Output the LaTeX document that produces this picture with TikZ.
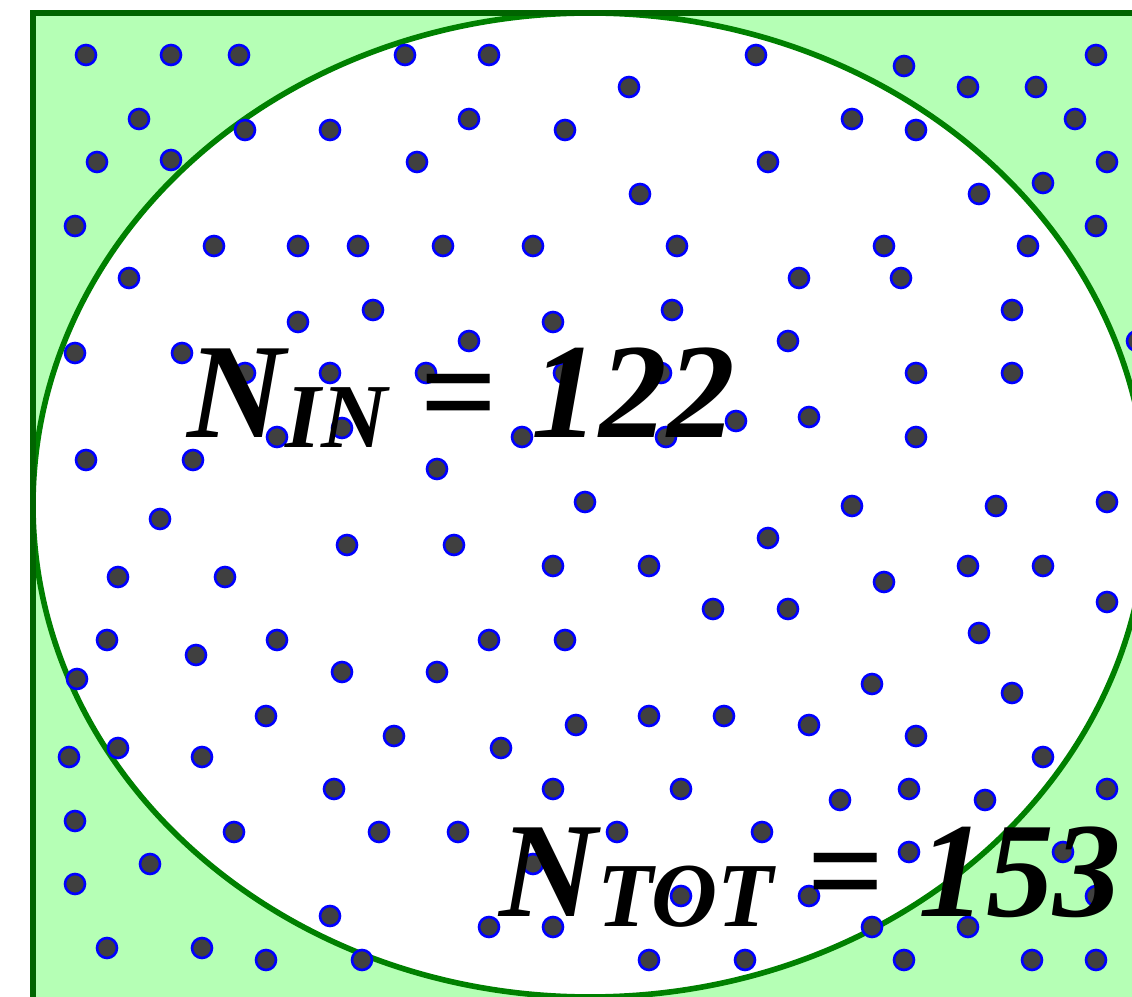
\documentclass[tikz,border=0pt]{standalone}
\usepackage{fontspec}
\setmainfont{Liberation Serif}
\usetikzlibrary{calc}
\definecolor{boxgreen}{RGB}{0,100,0}
\definecolor{ringgreen}{RGB}{0,128,0}
\definecolor{outgreen}{RGB}{181,255,181}
\definecolor{dotgray}{RGB}{64,64,64}
\newcommand{\lowsub}[1]{\raisebox{-2.8pt}{\fontsize{26}{28}\selectfont #1}}
\tikzset{
  pt/.style={fill=dotgray,draw=blue,line width=0.75pt},
  count/.style={font=\fontsize{38.5}{41}\selectfont\bfseries\itshape,inner sep=0pt,anchor=base west}
}

\begin{document}
\begin{tikzpicture}[x=0.01cm,y=-0.01cm]
  % frame is 1132x997, units are pixels, y downwards
  \useasboundingbox (0,0) rectangle (1132,997);
  \clip (0,0) rectangle (1132,997);
  % square (cut off at right and bottom)
  \fill[outgreen](33,13) rectangle (1250,1100);
  % inscribed circle
  \filldraw[fill=white,draw=ringgreen,line width=1.6pt]
    (590,505) ellipse [x radius=557,y radius=492];
  \draw[boxgreen,line width=1.6pt](33,1100)--(33,13)--(1250,13);
  % random points
  \foreach \px/\py in {86/55,171/55,239/55,405/55,489/55,756/55,1096/55,
      904/66,629/87,968/87,1036/87,
      139/119,469/119,852/119,1075/119,
      245/130,330/130,565/130,916/130,
      97/162,171/160,417/162,768/162,1107/162,1043/183,640/194,979/194,
      75/226,1096/226,
      214/246,298/246,358/246,443/246,533/246,677/246,884/246,1028/246,
      129/278,799/278,901/278,373/310,672/310,1012/310,298/322,553/322,
      469/341,788/341,1137/341,75/353,182/353,
      245/373,330/373,426/373,564/373,661/373,916/373,1012/373,
      736/421,809/417,342/428,277/437,522/437,666/437,916/437,
      86/460,193/460,437/469,585/502,1107/502,852/506,996/506,160/519,
      768/538,347/545,454/545,553/566,649/566,968/566,1043/566,
      118/577,225/577,884/582,1107/602,713/609,788/609,979/633,
      107/640,277/640,489/640,565/640,196/655,342/672,437/672,77/679,
      872/684,1012/693,266/716,649/716,724/716,576/725,809/725,
      394/736,916/736,118/748,501/748,69/757,202/757,1043/757,
      334/789,553/789,681/789,909/789,1107/789,840/800,985/800,75/821,
      234/832,379/832,458/832,617/832,762/832,909/852,1063/852,
      150/864,533/864,75/884,681/896,809/896,1096/896,330/916,
      489/927,553/927,872/927,968/927,107/948,202/948,
      266/960,362/960,649/960,745/960,904/960,1032/960,1096/960}{
    \filldraw[pt](\px,\py) circle [radius=10];}
  % counts
  \node[count] (nin) at (187,438) {N\lowsub{IN} {\upshape=} 122};
  \node[count] (ntot) at (499,917) {N\lowsub{TOT} {\upshape=} 153};
\end{tikzpicture}
\end{document}
